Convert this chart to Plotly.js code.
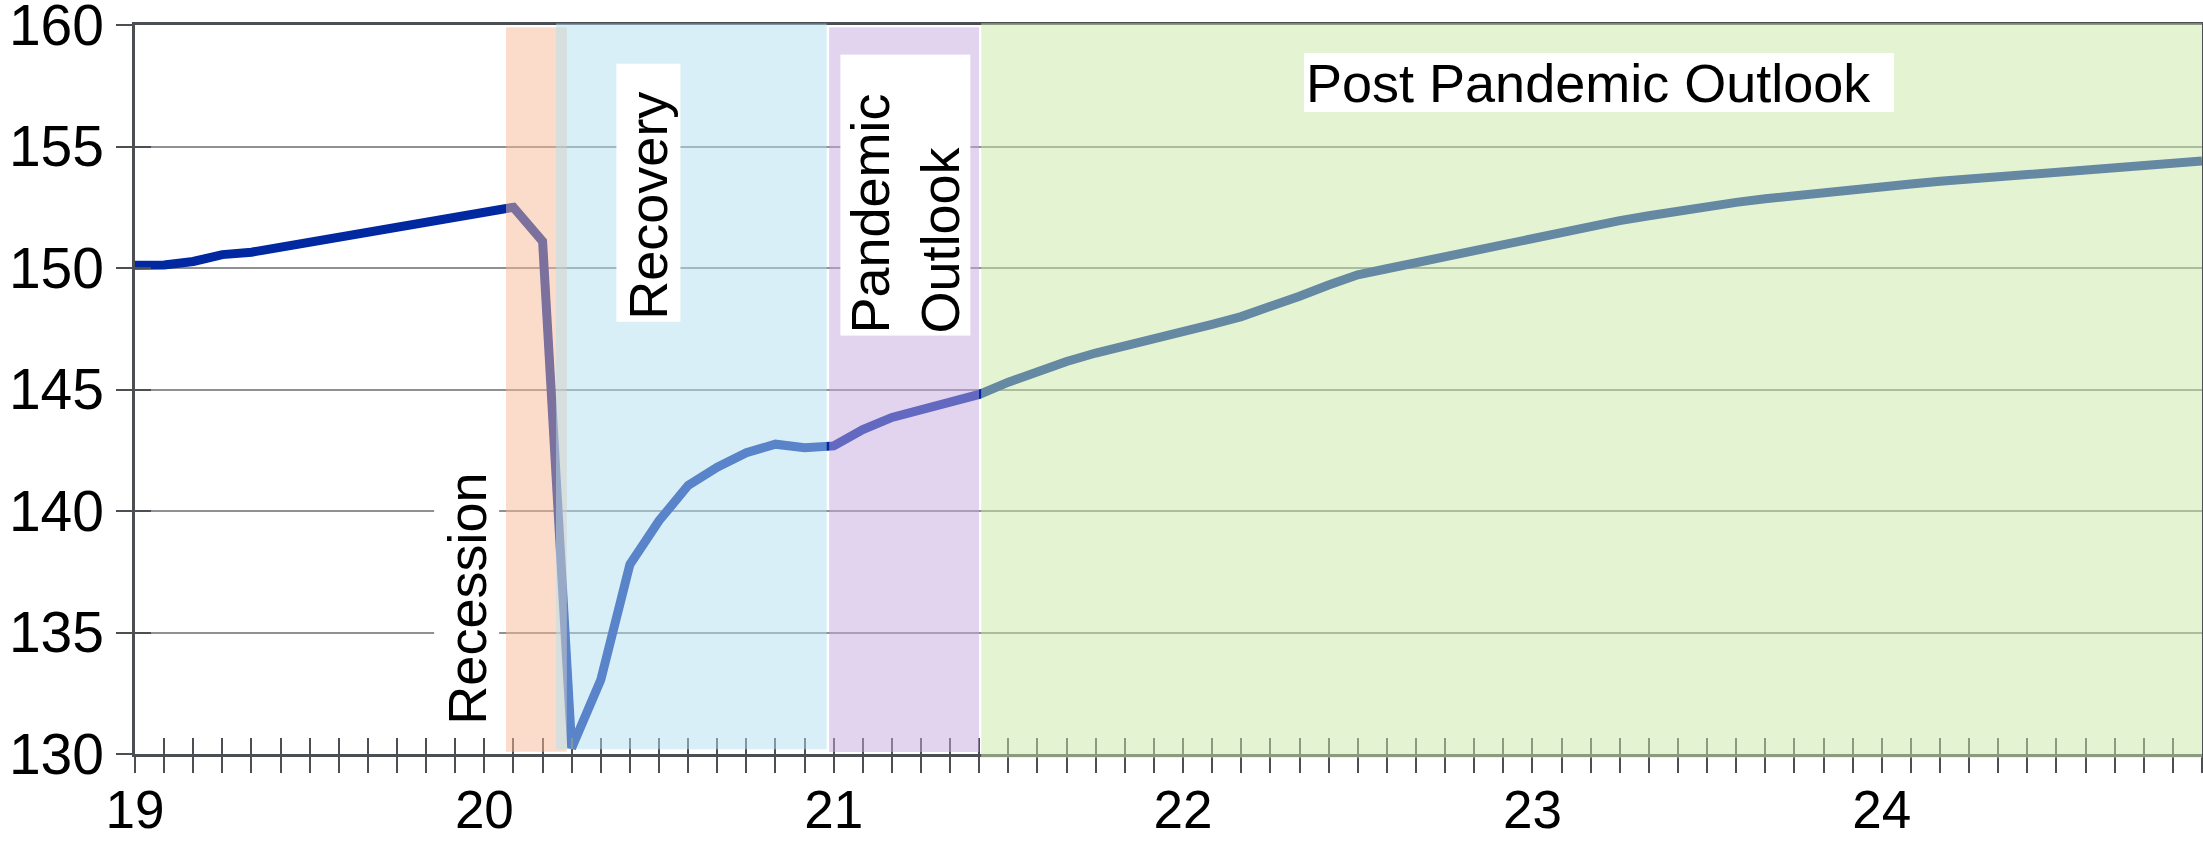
<!DOCTYPE html>
<html>
<head>
<meta charset="utf-8">
<script src="https://cdn.plot.ly/plotly-3.0.1.min.js"></script>
<style>
  html, body { margin: 0; padding: 0; background: #ffffff; }
  #chart { width: 2203px; height: 842px; }
</style>
</head>
<body>
<div id="chart"></div>
<script>
// ---- data (x axis: two-digit year, monthly points) ----
const years = [19, 20, 21, 22, 23, 24];
const values19 = [150.11, 150.12, 150.27, 150.55, 150.65, 150.85, 151.05, 151.27, 151.45, 151.65, 151.87, 152.07];
const values20 = [152.30, 152.50, 151.10, 130.25, 133.05, 137.80, 139.60, 141.05, 141.80, 142.40, 142.75, 142.60];
const values21 = [142.68, 143.35, 143.85, 144.15, 144.45, 144.80, 145.30, 145.75, 146.15, 146.50, 146.78, 147.07];
const values22 = [147.37, 147.68, 148.00, 148.40, 148.84, 149.30, 149.72, 149.97, 150.22, 150.48, 150.72, 150.98];
const values23 = [151.25, 151.50, 151.73, 151.95, 152.15, 152.35, 152.53, 152.70, 152.85, 152.99, 153.12, 153.24];
const values24 = [153.35, 153.46, 153.57, 153.67, 153.77, 153.86, 153.95, 154.04, 154.13, 154.22, 154.31, 154.40];
const yearValues = [values19, values20, values21, values22, values23, values24];

// periods (shaded bands)
const periodNames = ['Recession', 'Recovery', 'Pandemic<br>Outlook', 'Post Pandemic Outlook'];
const periodStart = [20.062, 20.205, 20.987, 21.422];
const periodEnd   = [20.236, 20.980, 21.416, 25.0];

// y ticks
const yTicks = [130, 135, 140, 145, 150, 155, 160];
const xTickLabels = ['19', '20', '21', '22', '23', '24'];

// ---- build series ----
const xs = [], ys = [];
years.forEach((yr, i) => {
  yearValues[i].forEach((v, m) => { xs.push(yr + m / 12); ys.push(v); });
});

// ---- style ----
const FONT = 'Liberation Sans, Arial, Helvetica, sans-serif';
const AXIS = '#4b4f54';
const GRID = '#8e9194';
const bandColors = ['#f8b997', '#b3dff1', '#c5a8e0', '#c9e9a5'];
const bandY0 = [0.003, 0.0064, 0.0027, -0.005];
const bandY1 = [0.997, 1.002, 0.9968, 1.0023];
const xRange = [19, 24 + 11 / 12];

const traces = [
  { x: xs, y: ys, type: 'scatter', mode: 'lines',
    line: { color: '#0028a0', width: 9 }, hoverinfo: 'skip', showlegend: false },
  { x: [], y: [], type: 'scatter', mode: 'lines', xaxis: 'x2', yaxis: 'y2',
    showlegend: false, hoverinfo: 'skip' }
];

const shapes = periodNames.map((n, i) => ({
  type: 'rect', xref: 'x', yref: 'paper',
  x0: periodStart[i], x1: periodEnd[i], y0: bandY0[i], y1: bandY1[i],
  fillcolor: bandColors[i], opacity: 0.5, line: { width: 0 }, layer: 'above'
}));

const annPos = [
  { x: 19.95,  y: 136.8,  angle: -90, w: 272, h: 61 },
  { x: 20.470, y: 153.08, angle: -90, w: 254, h: 60 },
  { x: 21.2055, y: 153.0, angle: -90, w: 277, h: 126 },
  { x: 23.191, y: 157.63, angle: 0,   w: 586, h: 55 }
];
const annotations = periodNames.map((t, i) => ({
  text: t, xref: 'x', yref: 'y', x: annPos[i].x, y: annPos[i].y,
  showarrow: false, textangle: annPos[i].angle, align: 'left',
  width: annPos[i].w, height: annPos[i].h, bgcolor: '#ffffff',
  borderpad: 2, borderwidth: 0,
  font: { family: FONT, size: 54, color: '#000000' }
}));

const layout = {
  width: 2203, height: 842,
  margin: { l: 135, r: 1, t: 25, b: 88, pad: 0 },
  paper_bgcolor: '#ffffff', plot_bgcolor: '#ffffff',
  showlegend: false,
  font: { family: FONT, size: 53, color: '#000000' },
  // main axes: outside half of the crossing ticks, lines, grid
  xaxis: {
    range: xRange, tickmode: 'array', tickvals: years, showticklabels: false,
    ticks: 'outside', ticklen: 16, tickwidth: 2, tickcolor: AXIS,
    showline: true, linecolor: AXIS, linewidth: 3, mirror: true,
    showgrid: false, zeroline: false,
    minor: { ticks: 'outside', ticklen: 16, tickwidth: 2, tickcolor: AXIS,
             tick0: 19, dtick: 1 / 12, showgrid: false }
  },
  yaxis: {
    range: [130, 160], tickmode: 'array', tickvals: yTicks, showticklabels: false,
    ticks: 'outside', ticklen: 16, tickwidth: 2, tickcolor: AXIS,
    showline: true, linecolor: AXIS, linewidth: 3, mirror: true,
    showgrid: true, gridcolor: GRID, gridwidth: 2, zeroline: false
  },
  // overlay axes: inside half of the ticks + tick labels
  xaxis2: {
    overlaying: 'x', anchor: 'y2', side: 'bottom', range: xRange,
    tickmode: 'array', tickvals: years, ticktext: xTickLabels,
    showticklabels: true, ticklabelstandoff: 20, ticklabeloverflow: 'allow',
    tickfont: { family: FONT, size: 53, color: '#000000' },
    ticks: 'inside', ticklen: 16, tickwidth: 2, tickcolor: AXIS,
    showline: false, showgrid: false, zeroline: false,
    minor: { ticks: 'inside', ticklen: 16, tickwidth: 2, tickcolor: AXIS,
             tick0: 19, dtick: 1 / 12, showgrid: false }
  },
  yaxis2: {
    overlaying: 'y', anchor: 'x2', side: 'left', range: [130, 160],
    tickmode: 'array', tickvals: yTicks,
    showticklabels: true, ticklabelstandoff: 30, ticklabeloverflow: 'allow',
    tickfont: { family: FONT, size: 57, color: '#000000' },
    ticks: 'inside', ticklen: 16, tickwidth: 2, tickcolor: AXIS,
    showline: false, showgrid: false, zeroline: false
  },
  shapes: shapes,
  annotations: annotations
};

Plotly.newPlot('chart', traces, layout, { staticPlot: true, displayModeBar: false });
</script>
</body>
</html>
